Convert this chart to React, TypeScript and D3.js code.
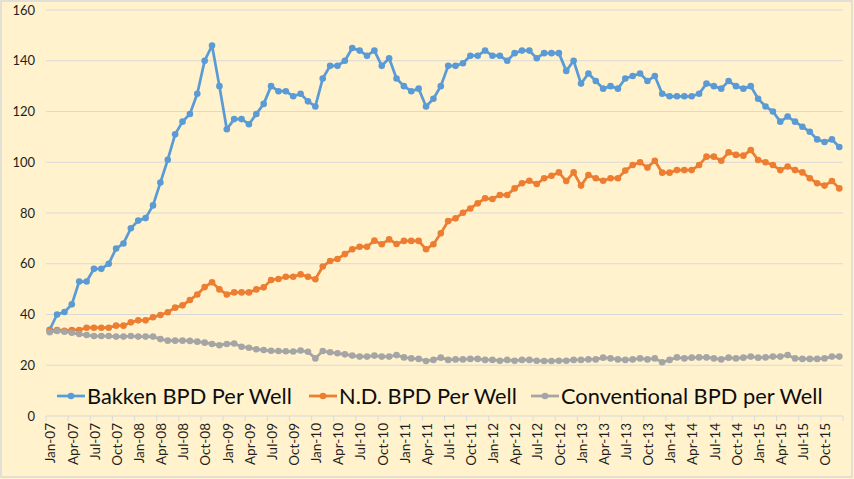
import React from "react";
import * as d3 from "d3";

const months: Date[] = d3.timeMonths(new Date(2007, 0, 1), new Date(2016, 0, 1));
const fmt = d3.timeFormat("%b-%y");
const categories: string[] = months.map((m) => fmt(m));

const bakken: number[] = [
  34, 40, 41, 44, 53, 53, 58, 58, 60, 66,
  68, 74, 77, 78, 83, 92, 101, 111, 116, 119,
  127, 140, 146, 130, 113, 117, 117, 115, 119, 123,
  130, 128, 128, 126, 127, 124, 122, 133, 138, 138,
  140, 145, 144, 142, 144, 138, 141, 133, 130, 128,
  129, 122, 125, 130, 138, 138, 139, 142, 142, 144,
  142, 142, 140, 143, 144, 144, 141, 143, 143, 143,
  136, 140, 131, 135, 132, 129, 130, 129, 133, 134,
  135, 132, 134, 127, 126, 126, 126, 126, 127, 131,
  130, 129, 132, 130, 129, 130, 125, 122, 120, 116,
  118, 116, 114, 112, 109, 108, 109, 106,
];

const nd: number[] = [
  33.6, 33.9, 33.6, 33.9, 33.9, 34.8, 34.8, 34.8, 34.8, 35.6,
  35.6, 36.9, 37.7, 37.7, 38.9, 39.8, 40.9, 42.7, 43.6, 45.7,
  47.9, 50.8, 52.7, 49.9, 47.9, 48.7, 48.7, 48.7, 49.9, 50.7,
  53.6, 54, 54.9, 54.9, 55.8, 54.9, 53.9, 58.9, 61.1, 61.9,
  63.8, 65.7, 66.7, 66.7, 69.1, 67.7, 69.6, 67.8, 69, 69,
  69, 65.7, 67.7, 72, 76.8, 77.9, 80.1, 81.8, 83.8, 85.8,
  85.5, 87.1, 87.1, 89.7, 91.7, 92.7, 91.4, 93.7, 94.7, 96,
  92.6, 96, 90.8, 95, 93.7, 92.7, 93.7, 93.7, 96.7, 98.9,
  100, 97.9, 100.6, 95.9, 95.9, 96.9, 96.9, 96.9, 98.9, 102.2,
  102.2, 100.6, 103.9, 102.9, 102.6, 104.8, 100.9, 100, 98.9, 96.9,
  98.3, 96.9, 96, 93.7, 91.7, 90.8, 92.6, 89.7,
];

const conventional: number[] = [
  33.0, 33.5, 33.2, 32.8, 32.3, 31.9, 31.5, 31.5, 31.5, 31.3,
  31.3, 31.5, 31.3, 31.3, 31.3, 30.3, 29.7, 29.7, 29.7, 29.6,
  29.3, 28.9, 28.4, 27.9, 28.4, 28.6, 27.3, 26.9, 26.3, 26.0,
  25.7, 25.6, 25.5, 25.4, 25.8, 25.3, 22.7, 25.6, 25.1, 24.7,
  24.3, 23.8, 23.4, 23.4, 23.8, 23.4, 23.4, 24.0, 23.1, 22.7,
  22.5, 21.7, 22.1, 23.0, 22.1, 22.3, 22.3, 22.5, 22.5, 22.1,
  22.1, 21.8, 22.1, 21.8, 22.1, 22.1, 21.8, 21.7, 21.7, 21.8,
  21.8, 22.1, 22.1, 22.3, 22.3, 23.0, 22.7, 22.3, 22.1, 22.3,
  22.7, 22.3, 22.7, 21.2, 22.1, 23.1, 22.7, 23.0, 23.1, 23.1,
  22.7, 22.3, 23.0, 22.7, 23.0, 23.4, 23.0, 23.1, 23.4, 23.4,
  24.0, 22.7, 22.5, 22.5, 22.5, 22.7, 23.4, 23.4,
];

const yTicks: number[] = [0, 20, 40, 60, 80, 100, 120, 140, 160];

const seriesNames: string[] = [
  "Bakken BPD Per Well",
  "N.D. BPD Per Well",
  "Conventional BPD per Well",
];
const seriesColors: string[] = ["#5B9BD5", "#ED7D31", "#A5A5A5"];
const seriesData: number[][] = [bakken, nd, conventional];

const W = 854;
const H = 479;
const plotLeft = 46;
const plotRight = 843;
const plotTop = 10;
const plotBottom = 416;
const legendY = 396;
const legendX: number[] = [57, 309, 531];
const FONT = "Lato, 'Noto Sans', sans-serif";

export default function App() {
  const x = d3
    .scaleBand<string>()
    .domain(categories)
    .range([plotLeft, plotRight])
    .paddingInner(0)
    .paddingOuter(0);
  const bw = x.bandwidth();
  const cx = (i: number) => (x(categories[i]) as number) + bw / 2;
  const y = d3.scaleLinear().domain([0, 160]).range([plotBottom, plotTop]);

  const line = d3
    .line<number>()
    .x((_, i) => cx(i))
    .y((d) => y(d));

  const tickIdx = d3.range(0, categories.length + 1, 3);
  const labelIdx = d3.range(0, categories.length, 3);

  return (
    <svg
      width={W}
      height={H}
      style={{ position: "absolute", left: 0, top: 0, display: "block" }}
      fontFamily={FONT}
    >
      <rect x={0} y={0} width={W} height={H} fill="#FFF2CC" />
      <rect
        x={1}
        y={1}
        width={W - 3}
        height={H - 3}
        fill="none"
        stroke="#D9D9D9"
        strokeWidth={1.5}
      />
      {yTicks.map((t) =>
        t === 0 ? null : (
          <line
            key={"g" + t}
            x1={plotLeft}
            x2={plotRight}
            y1={y(t)}
            y2={y(t)}
            stroke="#D9D9D9"
            strokeWidth={1}
          />
        )
      )}
      {yTicks.map((t) => (
        <text
          key={"yl" + t}
          x={35}
          y={y(t)}
          dy="0.35em"
          textAnchor="end"
          fontSize={13}
          fill="#1F1F1F"
        >
          {t}
        </text>
      ))}
      <line
        x1={plotLeft}
        x2={plotRight}
        y1={plotBottom}
        y2={plotBottom}
        stroke="#D9D9D9"
        strokeWidth={1}
      />
      {tickIdx.map((i) => {
        const xx = plotLeft + i * bw;
        return (
          <line
            key={"t" + i}
            x1={xx}
            x2={xx}
            y1={plotBottom}
            y2={plotBottom + 5}
            stroke="#D9D9D9"
            strokeWidth={1}
          />
        );
      })}
      {labelIdx.map((i) => (
        <text
          key={"xl" + i}
          transform={`translate(${cx(i) + 1},${plotBottom + 7}) rotate(-90)`}
          dy="0.35em"
          textAnchor="end"
          fontSize={13.5}
          fill="#1F1F1F"
        >
          {categories[i]}
        </text>
      ))}
      {seriesData.map((data, s) => (
        <g key={"s" + s}>
          <path
            d={line(data) as string}
            fill="none"
            stroke={seriesColors[s]}
            strokeWidth={2.75}
            strokeLinejoin="round"
          />
          {data.map((v, i) => (
            <circle
              key={i}
              cx={cx(i)}
              cy={y(v)}
              r={3.3}
              fill={seriesColors[s]}
            />
          ))}
        </g>
      ))}
      {seriesNames.map((name, s) => (
        <g key={"lg" + s} transform={`translate(${legendX[s]},${legendY})`}>
          <line x1={0} x2={28} y1={0} y2={0} stroke={seriesColors[s]} strokeWidth={2.75} />
          <circle cx={14} cy={0} r={3.3} fill={seriesColors[s]} />
          <text x={30} y={0} dy="0.35em" fontSize={21.8} fill="#0D0D0D">
            {name}
          </text>
        </g>
      ))}
    </svg>
  );
}
